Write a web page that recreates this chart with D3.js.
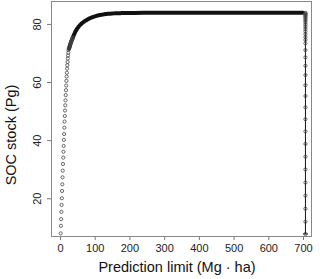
<!DOCTYPE html>
<html>
<head>
<meta charset="utf-8">
<script src="https://cdn.jsdelivr.net/npm/d3@7"></script>
<style>
  body { margin: 0; background: #fff; }
  text { font-family: "Liberation Sans", Arial, sans-serif; }
</style>
</head>
<body>
<svg id="chart" width="320" height="279"></svg>
<script>
// steep part, points read one by one
const limitLow = [2.0, 2.7, 3.3, 4.0, 4.6, 5.3, 6.0, 6.6, 7.3, 7.9, 8.6, 9.3, 9.9, 10.6, 11.2,
  11.9, 12.6, 13.2, 13.9, 14.5, 15.2, 15.9, 16.5, 17.2, 17.8, 18.5, 19.2, 19.8, 20.5, 21.1,
  21.8, 22.5, 23.1, 23.8, 24.4];
const stockLow = [7.9, 10.5, 12.8, 15.3, 17.7, 20.0, 22.5, 24.8, 27.2, 29.5, 31.8, 34.0, 36.0, 38.0, 40.1,
  42.1, 44.3, 46.4, 48.3, 50.2, 52.0, 53.7, 55.5, 57.2, 58.8, 60.4, 61.9, 63.2, 64.6, 65.8,
  66.9, 68.1, 69.1, 70.1, 71.0];

// dense part, the points merge into a solid band
const limitBand = [26, 27, 28, 29, 30, 31, 32, 33, 34, 35, 36, 37, 38, 39, 40,
  41.5, 43, 44.5, 46, 48, 50, 52, 54, 56, 58, 61, 64, 67, 70, 73, 76,
  80, 84, 88, 92, 96, 100, 105, 110, 115, 120,
  126, 132, 138, 144, 150, 156, 162, 168, 174, 180, 186, 192, 198,
  215, 240, 270, 300, 350, 400, 450, 500, 550, 600, 650, 700];
const stockBand = [71.5, 71.9, 72.3, 72.7, 73.1, 73.4, 73.8, 74.1, 74.4, 74.7, 75.0, 75.3, 75.6, 75.9, 76.2,
  76.6, 77.0, 77.4, 77.7, 78.1, 78.5, 78.8, 79.1, 79.4, 79.65, 80.0, 80.3, 80.6, 80.9, 81.1, 81.3,
  81.6, 81.85, 82.05, 82.25, 82.45, 82.6, 82.8, 82.95, 83.1, 83.2,
  83.3, 83.4, 83.48, 83.55, 83.6, 83.64, 83.68, 83.7, 83.72, 83.74, 83.76, 83.77, 83.78,
  83.8, 83.82, 83.83, 83.84, 83.85, 83.86, 83.86, 83.87, 83.87, 83.88, 83.88, 83.88];

// last column at the largest limit
const limitEnd = 707;
const stockEnd = [83.8, 83.6, 83.4, 83.1, 82.8, 82.4, 82.0, 81.5, 81.0, 80.4, 79.7, 79.0, 78.2, 77.4,
  76.5, 75.5, 74.5, 73.3, 71.0, 68.5, 65.6, 62.4, 58.9, 55.2, 51.3, 47.2, 43.0, 38.7, 34.3,
  29.9, 25.4, 20.9, 16.4, 11.9, 7.7];

const xTicks = [0, 100, 200, 300, 400, 500, 600, 700];
const yTicks = [20, 40, 60, 80];

const svg = d3.select("#chart");
const plot = { left: 51, right: 311, top: 1, bottom: 236 };

const x = d3.scaleLinear().domain([-25.9, 723]).range([plot.left, plot.right]);
const y = d3.scaleLinear().domain([7.0, 87.9]).range([plot.bottom, plot.top]);

// axes
const xAxis = svg.append("g")
  .attr("transform", `translate(0,${plot.bottom})`)
  .call(d3.axisBottom(x).tickValues(xTicks).tickSize(4).tickPadding(4));
xAxis.select(".domain").remove();
xAxis.selectAll("line").attr("stroke", "#777");
xAxis.selectAll("text").attr("font-size", 11).attr("fill", "#222")
  .attr("font-family", "Liberation Sans, Arial, sans-serif");

const yAxis = svg.append("g")
  .attr("transform", `translate(${plot.left},0)`)
  .call(d3.axisLeft(y).tickValues(yTicks).tickSize(4));
yAxis.select(".domain").remove();
yAxis.selectAll("line").attr("stroke", "#777");
yAxis.selectAll("text")
  .attr("font-size", 11).attr("fill", "#222")
  .attr("font-family", "Liberation Sans, Arial, sans-serif")
  .attr("transform", "rotate(-90)")
  .attr("text-anchor", "middle")
  .attr("x", 0).attr("y", -10).attr("dy", 0);

// box
svg.append("rect")
  .attr("x", plot.left + 0.5).attr("y", plot.top + 0.5)
  .attr("width", plot.right - plot.left).attr("height", plot.bottom - plot.top)
  .attr("fill", "none").attr("stroke", "#888").attr("stroke-width", 1);

// band
const band = limitBand.map((v, i) => ({ x: v, y: stockBand[i] }));
svg.append("path")
  .datum(band)
  .attr("d", d3.line().x(d => x(d.x)).y(d => y(d.y)).curve(d3.curveMonotoneX))
  .attr("fill", "none").attr("stroke", "#111").attr("stroke-width", 4)
  .attr("stroke-linecap", "round").attr("stroke-linejoin", "round");

// column on the right
const column = stockEnd.map(v => ({ x: limitEnd, y: v }));
svg.append("path")
  .datum(column)
  .attr("d", d3.line().x(d => x(d.x)).y(d => y(d.y)))
  .attr("stroke", "#111").attr("stroke-width", 1);
svg.append("line")
  .attr("x1", x(limitEnd) - 2.5).attr("x2", x(limitEnd) + 2.5)
  .attr("y1", y(d3.min(stockEnd))).attr("y2", y(d3.min(stockEnd)))
  .attr("stroke", "#111").attr("stroke-width", 1);

// points
const low = limitLow.map((v, i) => ({ x: v, y: stockLow[i] }));
svg.append("g")
  .selectAll("circle")
  .data(low.concat(band.slice(0, 12)).concat(column))
  .join("circle")
  .attr("cx", d => x(d.x))
  .attr("cy", d => y(d.y))
  .attr("r", 1.6)
  .attr("fill", "none")
  .attr("stroke", "#444")
  .attr("stroke-width", 0.8);

// titles
svg.append("text")
  .attr("x", 177).attr("y", 272)
  .attr("text-anchor", "middle")
  .attr("font-size", 14.5).attr("fill", "#111")
  .text("Prediction limit (Mg · ha)");

svg.append("text")
  .attr("transform", "translate(15.5,135) rotate(-90)")
  .attr("text-anchor", "middle")
  .attr("font-size", 14.5).attr("fill", "#111")
  .text("SOC stock (Pg)");
</script>
</body>
</html>
